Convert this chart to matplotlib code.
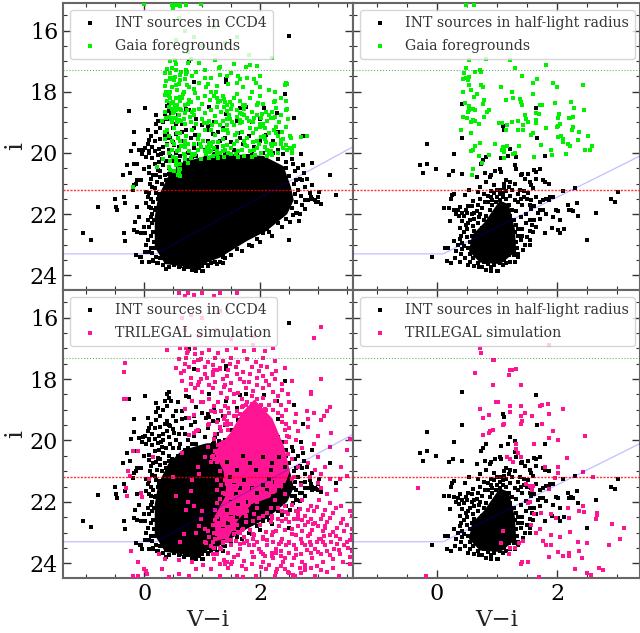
import numpy as np
import matplotlib
matplotlib.use('Agg')
import matplotlib.pyplot as plt
from matplotlib.ticker import MultipleLocator

plt.rcParams['font.family'] = 'DejaVu Serif'

# points as (V-i, i)
black_half = [(.42,18.41),(.42,19.51),(-.17,19.72),(.29,20.05),(-.29,20.4),(-.17,20.35),(-.24,20.67),(-.01,20.52),(.2,20.71),(.27,20.6),
 (.42,20.68),(.66,20.78),(.8,20.67),(.9,20.71),(.89,20.78),(.97,20.59),(1.04,20.54),(1.07,20.62),(1.3,20.38),(1.32,20.53),
 (1.42,20.7),(1.51,20.68),(1.62,20.57),(1.71,20.53),(1.65,20.62),(1.1,19.13),(1.12,19.24),(1.66,19.5),(1.65,18.52),(1.22,19.88),
 (1.29,20.02),(1.32,20.13),(1.18,20.11),(1.07,20.18),(.82,20.13),(.76,20.24),(.73,20.35),(1.79,20.1),(1.76,20.9),(1.87,21.0),
 (1.79,20.95),(1.65,20.84),(1.54,20.95),(1.57,21.05),(1.46,20.84),(1.4,20.73),(1.21,20.95),(1.12,21.0),(1.15,20.89),(.82,20.95),
 (.72,21.1),(.54,21.2),(.46,21.38),(.25,21.38),(.28,21.33),(.23,21.52),(.68,21.27),(.6,21.58),(.68,21.7),(.11,21.8),
 (.2,21.8),(.29,21.85),(.35,21.87),(.39,21.76),(.49,21.85),(.32,22.0),(.37,22.07),(.22,22.24),(.42,22.22),(2.29,21.16),
 (2.1,21.25),(3.01,21.27),(2.9,21.52),(2.96,21.59),(2.18,21.7),(2.33,21.65),(2.23,21.85),(2.26,21.89),(2.2,21.87),(2.64,21.95),
 (2.35,22.05),(1.98,21.85),(2.01,21.89),(1.93,22.09),(2.04,22.2),(1.92,22.45),(2.01,22.52),(2.04,22.61),(2.12,22.49),(2.49,22.85),
 (1.88,21.43),(1.93,21.43),(1.82,21.49),(1.76,21.54),(1.71,21.6),(1.87,21.54),(1.65,21.43),(1.57,21.55),(1.71,21.87),(1.76,21.87),
 (1.82,21.98),(1.57,21.82),(1.48,21.98),(1.62,22.2),(1.65,22.41),(1.79,22.63),(1.6,22.58),(1.54,22.85),(1.46,23.0),(1.43,23.17),
 (-.08,23.41),(.13,23.1),(.18,23.1),(.16,23.52),(.24,23.59),(.28,22.87),(.38,22.8),(.5,21.95),(.58,22.0),(.66,21.9),
 (.75,21.8),(.85,21.6),(.9,21.45),(.95,21.3),(1.0,21.45),(.8,21.6),(.72,22.0),(.55,22.2),(.48,22.35),(.6,22.4),
 (.45,22.6),(.4,22.7),(.5,22.75),(.35,23.0),(.42,23.15),(.4,23.3),(.47,23.45),(.55,23.55),(.62,23.7),(.82,23.82),
 (.9,23.85),(1.0,23.85),(1.02,23.86),(.6,23.2),(1.3,21.0),(1.25,21.2),(1.35,21.35),(1.45,21.25),(1.5,21.5),(1.42,21.7),
 (1.32,21.9),(1.4,22.1),(1.48,22.3),(1.42,22.5),(1.35,22.7),(1.4,22.85),(1.33,23.1),(1.28,23.35),(1.22,23.55),(1.1,23.65),
 (.9,23.72),(.75,23.72),(1.55,22.2),(1.55,22.55),(1.3,21.55),(1.2,21.1),(1.05,21.2),(.95,21.05),(1.52,21.3),(1.6,21.15)]

black_half_extra = [(.45,22.05),(.52,22.3),(.62,22.15),(.68,22.3),(.78,22.2),(.82,22.05),(.88,21.85),(.92,21.7),(.98,21.6),(1.05,21.55),
 (1.1,21.45),(1.15,21.5),(1.08,21.7),(1.12,21.85),(1.2,21.7),(1.25,21.85),(1.22,22.05),(1.28,22.2),(1.32,22.35),(1.35,22.5),
 (1.25,22.45),(1.3,22.6),(1.25,22.8),(1.32,22.9),(1.22,23.0),(1.28,23.2),(1.2,23.35),(1.12,23.5),(1.05,23.6),(.95,23.65),
 (.85,23.62),(.78,23.55),(.68,23.6),(.6,23.45),(.55,23.3),(.52,23.1),(.45,23.05),(.55,22.9),(.58,22.7),(.62,22.55),
 (.7,22.65),(.75,22.45),(.85,22.35),(.9,22.15),(.95,22.0),(1.0,21.85),(.72,22.85),(.65,23.15),(.72,23.35),(.8,23.3),
 (.5,22.5),(.38,22.45),(.42,22.95),(.32,23.2),(.3,23.45),(.38,23.55),(.52,23.65),(.7,23.72),(1.15,23.6),(1.35,23.3),
 (1.42,22.7),(1.5,22.75),(1.58,22.35),(1.35,21.6),(1.1,21.3),(1.05,21.35),(1.15,21.25),(1.12,21.15),(1.0,21.2),(.9,21.25),
 (.85,21.4),(.78,21.35),(.72,21.5),(.92,21.55),(.58,21.75),(.62,21.95),(.52,21.72),(.42,21.95),(.7,22.1),(1.4,21.5),
 (1.22,21.4),(1.38,21.2),(1.45,21.45),(1.55,21.7),(1.62,21.75),(1.68,21.95),(1.72,22.15),(1.55,23.0),(1.35,23.4),(1.3,23.55)]

black_ccd4 = [(2.5,16.18),(.78,17.01),(1.41,17.68),(1.41,17.58),(2.43,18.07),(.85,17.68),(-.27,18.64),(.01,18.54),(.21,18.77),(.39,18.48),
 (.42,18.63),(.4,18.88),(.32,19.0),(.2,19.07),(.06,19.26),(-.18,19.3),(.2,19.32),(2.59,18.85),(2.73,19.46),(2.29,18.7),
 (2.07,18.53),(1.76,18.5),(1.11,18.5),(.78,18.6),(.72,18.55),(-.23,19.95),(-.09,19.91),(-.03,20.04),(-.18,20.35),(-.12,20.35),
 (.03,20.13),(.14,19.8),(.26,19.86),(.09,19.59),(.06,19.7),(.23,20.08),(.32,19.8),(.4,19.7),(.49,19.64),(.4,19.37),
 (.55,19.37),(.55,19.04),(.66,19.04),(.72,19.26),(.86,19.2),(1.07,19.26),(1.18,19.37),(1.27,19.32),(1.41,18.72),(.09,20.46),
 (.23,20.57),(.32,20.4),(.35,20.73),(-.37,20.73),(-.14,21.0),(-.17,21.05),(-.12,20.89),(-.06,20.89),(-.2,21.22),(.12,20.84),
 (.14,21.11),(.03,21.27),(-.35,21.43),(-.51,21.52),(-.33,21.65),(-.48,21.76),(-.47,21.87),(-.79,21.78),(.06,21.43),(.03,21.65),
 (.09,21.76),(-.12,21.76),(-.16,22.25),(-.09,22.09),(-.17,22.52),(-.12,22.58),(-.06,22.63),(0,22.41),(.12,22.09),(.09,22.41),
 (.14,22.3),(-1.05,22.61),(-.91,22.83),(-.35,22.63),(-.33,22.88),(.06,22.85),(.03,23.0),(.12,23.12),(-.14,23.34),(-.06,23.39),
 (-.03,23.55),(.09,23.55),(.14,23.28),(.2,23.39),(.32,23.66),(.43,23.72),(.6,23.72),(.82,23.8),(3.3,21.38),(3.2,20.73),
 (3.05,21.67),(3.0,21.43),(2.9,21.05),(2.9,20.32),(2.71,20.04),(2.56,20.35),(2.74,20.4),(2.75,20.67),(2.68,20.84),(2.82,21.54),
 (2.88,21.43),(2.94,21.54),(3.0,21.6),(2.77,21.82),(2.68,21.98),(2.67,22.23),(2.56,22.03),(.3,20.2),(.45,20.1),(.55,20.0),
 (.6,19.8),(.5,20.25),(.38,20.9),(.3,21.0),(.2,21.3),(.15,21.6),(.16,22.6),(.17,22.9),(.65,19.6),(.8,19.5),
 (.95,19.7),(1.1,19.6),(1.25,19.8),(1.4,19.5),(1.55,19.9),(1.7,19.7),(1.9,19.8),(2.1,19.4),(2.3,19.9),(.6,20.25),
 (.75,20.0),(.9,20.1),(1.05,19.9),(1.2,20.05),(1.4,20.0),(1.6,20.05),(1.85,20.05),(2.05,20.0),(2.3,20.2),(2.45,20.3),
 (2.6,20.6),(2.62,20.9),(2.65,21.2),(2.7,21.4),(2.62,21.6),(2.55,21.8),(2.45,22.15),(2.3,22.3),(2.15,22.6),(1.95,22.8),
 (1.8,23.0),(1.6,23.15),(1.4,23.45),(1.15,23.6),(1.0,23.7),(.66,19.3),(.9,18.9),(1.2,19.0),(1.6,18.95),(2.0,18.9)]

black_ccd4_extra = [(.12,19.45),(.18,19.6),(.28,19.55),(.35,19.45),(.45,19.52),(.52,19.75),(.42,19.9),(.33,20.0),(.18,19.95),(.08,20.0),
 (.02,19.85),(.14,20.15),(.25,20.3),(.38,20.25),(.18,20.35),(.08,20.65),(.16,20.72),(.28,20.8),(.22,20.95),(.18,21.15),
 (.1,21.0),(.08,21.32),(.12,21.5),(.18,21.85),(.13,22.0),(.06,22.2),(.17,22.2),(.02,22.62),(.12,22.7),(.08,23.25),
 (.02,23.25),(.15,23.5),(.28,23.45),(.22,23.6),(.38,23.78),(.52,23.62),(.68,23.8),(.72,23.68),(.95,23.75),(1.1,23.7),
 (1.25,23.62),(1.35,23.6),(1.5,23.32),(1.68,23.22),(1.85,23.05),(2.0,22.92),(2.2,22.72),(2.38,22.42),(2.52,22.25),(2.62,21.95),
 (2.72,21.7),(2.78,21.55),(2.85,21.3),(2.78,21.1),(2.72,20.9),(2.8,20.85),(2.65,20.5),(2.55,20.2),(2.4,20.05),(2.22,20.0),
 (1.3,19.6),(1.5,19.65),(1.62,19.35),(1.8,19.45),(2.0,19.6),(2.22,19.6),(.7,19.8),(.85,19.85),(.62,20.1),(.42,20.5),
 (.48,20.62),(.58,20.5),(.7,20.3),(.88,19.4),(1.0,19.1),(1.35,19.2),(1.85,19.0),(2.3,19.3),(.5,19.2),(.58,18.75),
 (.46,18.7),(.35,18.72),(.28,19.2),(.08,19.95),(-.02,19.9),(.24,18.95),(2.45,20.5),(2.5,20.75),(2.58,21.0),(2.6,21.35)]

# black that shows through the pink mass in the CCD4 simulation panel
black_in_pink = [(1.85,21.55),(1.95,21.7),(2.05,21.45),(2.15,21.25),(2.25,21.35),(2.32,21.6),(2.42,21.45),(2.5,21.25),(2.12,21.6),(2.22,21.8),
 (1.72,21.3),(1.65,21.55),(1.58,21.75),(1.5,22.0),(1.42,22.25),(1.5,22.4),(1.62,22.1),(1.75,22.0),(1.88,22.12),(1.98,22.3),
 (2.1,22.15),(2.25,22.1),(1.7,20.5),(1.82,20.75),(1.6,20.95),(1.48,21.2),(1.92,20.95),(2.05,20.55),(2.2,20.75),(2.32,20.55),
 (2.42,20.85),(1.55,21.45),(1.38,21.55),(1.3,21.15),(1.42,20.7),(1.28,22.55),(1.35,22.8),(1.22,23.15),(1.45,22.7),(1.6,22.5),
 (2.58,21.55),(2.68,21.7),(2.78,21.35),(2.9,21.6),(2.45,21.85),(2.35,22.0),(2.6,21.8),(2.18,20.95),(1.75,22.35),(1.88,22.5)]

green_half = [(.48,15.15),(.61,15.15),(.53,16.95),(.81,16.92),(1.22,16.96),(1.82,17.14),(1.29,17.23),(.48,17.23),(.45,17.39),(.63,17.36),
 (.72,17.28),(.73,17.35),(1.42,17.48),(.44,17.59),(.49,17.54),(.53,17.52),(.52,17.63),(1.66,17.59),(1.6,17.71),(1.93,17.71),
 (1.99,17.84),(2.43,17.78),(.54,17.79),(.73,17.78),(.77,17.86),(.57,17.95),(1.07,17.84),(.44,18.02),(1.24,18.02),(.67,18.09),
 (.61,18.16),(1.6,18.09),(1.14,18.26),(1.26,18.22),(1.38,18.24),(.78,18.26),(.76,18.39),(.47,18.37),(1.4,18.34),(1.42,18.45),
 (1.96,18.38),(2.23,18.34),(1.71,18.45),(1.74,18.42),(2.28,18.54),(2.45,18.59),(.53,18.48),(.54,18.59),(.6,18.57),(.64,18.61),
 (.52,18.66),(.86,18.59),(.83,18.66),(1.65,18.68),(1.69,18.72),(.79,18.83),(.43,18.82),(.5,18.85),(.6,18.91),(.64,18.97),
 (.7,19.04),(.56,19.0),(2.03,18.72),(2.01,18.85),(2.19,18.85),(2.22,18.86),(2.26,18.84),(1.47,18.76),(1.48,18.9),(1.52,18.99),
 (1.65,18.91),(1.65,19.02),(1.35,18.96),(1.24,18.99),(1.43,19.1),(1.03,19.02),(1.08,19.01),(1.17,19.1),(1.15,19.24),(1.35,19.24),
 (1.43,19.26),(1.82,19.2),(1.99,19.15),(2.04,19.07),(2.01,19.13),(2.27,19.15),(2.24,19.24),(2.37,19.32),(.4,19.24),(.57,19.34),
 (1.6,19.34),(1.57,19.4),(2.01,19.48),(2.07,19.46),(2.09,19.53),(2.51,19.46),(2.35,19.59),(2.18,19.7),(2.1,19.64),(2.21,19.77),
 (2.58,19.77),(2.47,19.91),(2.54,19.91),(1.73,19.75),(1.89,19.91),(.97,19.7),(.71,19.67),(.64,19.78),(.6,19.91),(.56,19.95),
 (1.36,19.76),(1.09,19.8),(1.12,19.85),(1.16,19.78),(1.08,19.91),(1.12,19.97),(1.26,20.02),(1.3,20.0),(.7,20.11),(.86,20.08),
 (1.62,20.13),(1.91,20.08),(2.15,20.05),(1.12,20.16),(.75,20.32),(.6,20.51),(.58,20.71)]

green_ccd4 = [(.55,15.15),(.6,15.12),(.5,15.25),(.62,15.2),(.72,15.15),(.98,15.12),(0,15.13),(.6,15.6),(.7,16.0),(.55,16.3),
 (.85,16.2),(1.0,16.5),(1.2,15.9),(.75,16.7),(1.4,16.4),(1.8,16.8),(1.6,16.2),(2.2,16.9),(.45,17.0),(.55,17.1),
 (.75,17.05),(.95,17.05),(1.3,17.2),(1.55,17.1),(1.75,17.2),(1.95,17.15),(.35,17.4),(.4,17.25),(.55,17.3),(.62,17.45),
 (.7,17.6),(.82,17.5),(.9,17.35),(1.05,17.3),(1.15,17.55),(1.3,17.45),(1.5,17.4),(1.62,17.5),(1.9,17.6),(.35,17.8),
 (.38,18.0),(.35,18.1),(.48,17.85),(.6,17.75),(.68,18.0),(.85,17.9),(.95,17.7),(1.25,17.8),(1.45,17.75),(1.7,17.85),
 (1.85,18.0),(2.0,18.15),(2.45,17.7),(2.47,17.75),(.45,18.2),(.5,18.35),(.55,18.2),(.62,18.3),(.7,18.45),(.8,18.35),
 (.92,18.2),(1.0,18.4),(1.15,18.0),(1.2,18.15),(1.3,18.3),(1.35,18.15),(1.48,18.35),(1.55,18.2),(1.65,18.3),(1.82,18.2),
 (1.95,18.45),(2.05,18.4),(2.25,18.3),(2.45,18.3),(2.47,18.55),(.35,18.65),(.42,18.5),(.5,18.7),(.62,18.55),(.7,18.7),
 (.85,18.75),(.95,18.55),(1.05,18.7),(1.15,18.6),(1.25,18.5),(1.32,18.65),(1.5,18.55),(1.6,18.6),(1.72,18.75),(1.85,18.65),
 (1.95,18.75),(2.1,18.65),(2.2,18.65),(2.35,18.75),(2.48,18.9),(.3,18.95),(.38,18.85),(.48,19.0),(.55,18.85),(.68,18.9),
 (.8,19.0),(.9,19.05),(1.0,18.9),(1.12,18.95),(1.22,18.8),(1.3,19.1),(1.42,18.9),(1.55,19.1),(1.68,19.0),(1.78,18.85),
 (1.88,19.0),(2.0,19.05),(2.12,18.95),(2.32,19.0),(2.45,19.15),(.36,19.3),(.42,19.45),(.52,19.2),(.62,19.35),(.72,19.45),
 (.82,19.25),(.95,19.4),(1.05,19.25),(1.22,19.4),(1.35,19.55),(1.45,19.35),(1.68,19.3),(1.78,19.5),(1.88,19.35),(1.95,19.6),
 (2.15,19.35),(2.3,19.45),(2.4,19.55),(2.53,19.5),(2.7,19.47),(2.8,19.44),(.4,19.75),(.48,19.9),(.42,20.0),(.52,19.72),
 (.62,19.6),(.7,19.8),(.78,19.95),(.85,19.7),(.92,19.9),(1.02,19.6),(1.12,19.68),(1.2,19.85),(1.28,19.65),(1.35,19.95),
 (1.42,19.75),(1.5,19.85),(1.6,19.6),(1.68,19.9),(1.78,19.78),(1.88,19.65),(1.95,19.85),(2.02,20.0),(2.08,19.8),(2.25,19.7),
 (2.3,20.0),(2.4,19.85),(2.45,19.75),(2.52,19.85),(2.55,20.0),(.32,20.2),(.45,20.25),(.55,20.15),(.62,20.35),(.7,20.2),
 (.8,20.15),(.88,20.05),(.98,20.2),(1.06,20.05),(1.18,20.1),(1.28,20.18),(1.38,20.12),(1.5,20.05),(1.72,20.1),(1.85,20.12),
 (2.12,20.1),(2.2,20.08),(.22,20.45),(.42,20.45),(.52,20.6),(.6,20.65),(.62,20.75),(-.2,21.12),(.55,20.4),(.45,20.55),
 (.42,18.15),(.48,18.55),(.56,18.42),(.66,18.22),(.74,18.6),(.4,18.3),(.6,18.75),(.46,18.9),(1.28,18.35),(1.38,18.5),
 (1.42,18.62),(1.52,18.45),(1.6,18.82),(1.72,18.55),(1.8,18.95),(1.9,18.85),(2.08,19.2),(1.92,19.22),(2.15,18.75),(2.28,19.35),
 (.7,19.6),(.75,19.7),(.92,19.55),(.98,19.82),(1.05,19.95),(1.15,19.95),(1.18,19.65),(1.25,19.95),(1.4,19.9),(1.55,19.72),
 (1.62,19.95),(1.72,19.62),(1.82,19.95),(1.98,19.72),(2.12,19.9),(2.18,19.95),(2.35,19.7),(.58,19.5),(.35,19.55),(.48,19.6),
 (.68,20.05),(.82,20.05),(.55,20.28),(.62,20.52),(.5,20.12),(1.45,20.0),(1.58,20.05),(1.05,18.15),(.88,18.05),(.62,17.62),
 (.72,17.42),(.45,17.55),(.38,17.65),(1.05,17.55),(1.1,17.75),(2.25,18.0),(2.35,18.2),(1.78,17.55),(2.0,17.5),(2.15,17.95)]

pink_half = [(.72,17.0),(.74,17.14),(.93,17.38),(.95,17.38),(.64,17.79),(1.87,16.9),(1.19,17.87),(1.21,17.72),(1.25,17.71),(1.31,17.68),
 (.93,18.21),(1.39,18.21),(.98,18.76),(1.01,18.76),(1.21,18.88),(1.4,18.88),(1.22,19.08),(.71,18.96),(.86,19.17),(.77,19.27),
 (1.71,18.88),(1.75,18.85),(1.85,18.82),(2.09,18.99),(1.47,19.1),(1.4,19.21),(1.58,19.22),(1.87,19.15),(1.42,19.37),(1.4,19.48),
 (1.74,19.47),(1.1,19.5),(1.12,19.48),(.93,19.66),(.89,19.7),(.86,19.77),(.77,19.83),(1.93,19.7),(2.47,19.84),(1.87,19.93),
 (2.01,20.0),(1.62,20.11),(1.32,20.11),(1.32,20.29),(1.35,20.4),(1.4,20.54),(1.17,20.54),(1.21,20.62),(1.26,20.71),(2.17,20.57),
 (1.8,20.87),(2.02,20.87),(2.01,21.05),(2.43,21.03),(2.59,21.18),(1.96,21.22),(-.32,21.55),(1.48,21.43),(1.54,21.49),(1.6,21.49),
 (1.58,21.6),(1.87,21.57),(1.54,22.0),(1.51,22.05),(2.43,22.14),(2.18,22.2),(2.37,22.3),(2.45,22.33),(2.66,22.36),(2.66,22.43),
 (2.65,22.55),(1.62,22.41),(1.73,22.36),(1.9,22.41),(1.98,22.52),(2.2,22.52),(1.57,22.74),(1.71,22.9),(1.65,23.0),(1.1,22.96),
 (1.89,23.07),(2.05,23.14),(2.22,22.98),(2.91,22.72),(3.11,22.85),(3.05,23.21),(2.87,23.41),(2.5,23.34),(2.35,23.3),(1.77,23.28),
 (1.81,23.41),(1.89,23.41),(1.43,23.26),(1.36,23.34),(1.3,23.5),(1.21,23.5),(1.07,23.34),(1.19,23.69),(2.01,23.63),(2.09,23.77),
 (2.2,23.66),(2.2,23.77),(2.36,23.59),(2.42,23.83),(1.87,23.8),(1.42,23.96),(1.51,23.97),(1.4,24.04),(2.29,24.18),(2.5,24.33),
 (2.57,24.37),(2.69,24.17),(2.77,24.23),(1.7,24.45),(-.19,24.42)]

pink_ccd4 = [(.6,15.2),(.7,15.3),(.75,15.2),(.85,15.25),(1.0,15.2),(1.2,15.3),(1.3,15.2),(1.6,15.2),(.65,16.0),(.8,15.9),
 (1.0,16.0),(1.3,15.8),(.7,16.4),(.95,16.6),(1.25,16.4),(1.5,16.7),(1.9,16.6),(3.05,16.3),(2.93,16.65),(.4,17.05),
 (-.33,17.47),(-.34,17.77),(-.35,18.65),(-.32,18.65),(3.05,18.0),(2.88,18.42),(2.88,18.5),(3.2,18.9),(3.15,19.05),(3.1,19.2),
 (.62,17.0),(.75,17.1),(.88,17.0),(1.0,17.15),(1.12,17.05),(1.28,17.15),(1.42,17.05),(1.58,17.0),(1.72,17.1),(1.9,17.05),(2.08,17.1),(2.22,17.0),
 (.6,17.35),(.72,17.3),(.85,17.45),(.98,17.35),(1.1,17.45),(1.22,17.3),(1.35,17.42),(1.5,17.3),(1.62,17.45),(1.78,17.35),(1.92,17.45),(2.05,17.3),(2.25,17.4),
 (.55,17.65),(.68,17.75),(.78,17.6),(.92,17.7),(1.05,17.62),(1.18,17.78),(1.3,17.65),(1.45,17.72),(1.58,17.6),(1.7,17.78),(1.85,17.62),(1.98,17.75),(2.12,17.62),(2.28,17.75),(2.42,17.65),
 (.65,18.05),(.8,17.95),(.95,18.1),(1.08,17.95),(1.22,18.1),(1.35,18.0),(1.5,18.12),(1.65,18.0),(1.8,18.1),(1.95,17.95),(2.1,18.08),(2.25,18.0),(2.38,18.15),(2.55,18.05),
 (.72,18.35),(.88,18.3),(1.0,18.42),(1.18,18.3),(1.32,18.45),(1.48,18.35),(1.62,18.45),(1.75,18.3),(1.88,18.4),(2.05,18.3),(2.22,18.42),(2.38,18.35),(2.48,18.5),
 (.82,18.72),(.98,18.75),(1.12,18.65),(1.28,18.75),(1.42,18.62),(1.55,18.75),(1.68,18.65),(2.25,18.7),(2.35,18.85),(2.5,18.75),
 (1.15,19.05),(1.32,19.05),(1.45,18.95),(1.6,19.05),(2.3,19.1),(2.45,19.0),(2.62,19.15),(2.8,19.05),(2.92,19.1),(2.82,19.3),(2.6,19.4),(3.05,19.35),
 (1.25,19.4),(1.38,19.3),(1.5,19.45),(1.45,19.65),(1.32,19.7),(2.38,19.4),(2.5,19.6),(2.65,19.7),(2.82,19.55),(3.0,19.85),(3.22,19.75),(3.55,19.95),(3.2,20.2),(3.5,20.3),
 (1.2,19.95),(1.35,20.05),(1.1,20.2),(1.22,20.35),(-.2,20.35),(-.1,20.35),(.15,20.55),(.65,20.4),(2.45,20.05),(2.62,20.0),(2.72,20.25),(2.92,20.1),(3.0,20.55),(3.12,20.85),(3.4,20.85),(3.5,21.15),(3.38,21.25),
 (1.05,20.55),(1.15,20.7),(1.28,20.6),(.92,20.85),(.95,21.1),(.82,21.3),(-.28,21.0),(-.25,21.15),(.08,21.25),(.5,21.2),(2.55,20.6),(2.65,20.85),(2.82,20.75),(2.95,20.95),(3.05,21.1),(3.2,21.25),
 (1.3,21.0),(1.4,21.3),(1.25,21.3),(1.45,20.95),(2.55,21.25),(2.7,21.45),(2.85,21.2),(3.0,21.4),(3.05,21.55),(3.15,21.75),(3.3,21.6),(-.3,21.8),(-.05,21.7),(-.03,21.85),(.55,21.8),(.8,21.65),(.75,22.0),(.85,22.15),
 (1.25,21.6),(1.4,21.75),(1.5,21.55),(1.3,21.9),(1.45,22.05),(1.6,21.85),(1.72,22.0),(1.85,21.75),(1.95,22.0),(2.1,21.7),(2.25,21.95),(2.42,21.75),(2.55,22.1),(2.72,21.95),(2.88,22.15),(3.02,21.95),(3.2,22.05),(3.4,22.15),(3.55,22.3),
 (.72,22.25),(1.0,22.3),(.98,22.55),(1.22,22.25),(1.35,22.4),(1.5,22.35),(1.62,22.2),(1.78,22.3),(1.95,22.2),(2.12,22.35),(2.3,22.2),(2.48,22.4),(2.62,22.3),(2.78,22.45),(2.92,22.3),(3.08,22.42),(3.25,22.35),(3.42,22.55),(3.58,22.45),
 (.95,22.8),(.68,23.05),(1.05,22.9),(1.22,22.6),(1.35,22.75),(1.48,22.6),(1.6,22.75),(1.75,22.65),(2.0,22.75),(2.18,22.65),(2.32,22.8),(2.5,22.65),(2.65,22.8),(2.82,22.65),(3.0,22.8),(3.15,22.65),(3.32,22.85),(3.5,22.75),
 (1.12,23.15),(1.25,23.05),(1.42,23.15),(1.55,23.05),(1.72,23.15),(1.88,23.05),(2.05,23.2),(2.2,23.08),(2.38,23.2),(2.55,23.05),(2.7,23.2),(2.85,23.05),(3.02,23.2),(3.2,23.08),(3.38,23.2),(3.58,23.1),
 (1.15,23.45),(1.32,23.55),(1.5,23.42),(1.65,23.55),(1.8,23.42),(1.98,23.55),(2.12,23.42),(2.28,23.55),(2.45,23.42),(2.62,23.55),(2.78,23.42),(2.95,23.55),(3.12,23.42),(3.28,23.55),(3.45,23.42),(3.58,23.6),
 (-.22,23.6),(-.1,23.95),(.25,23.7),(.35,23.85),(.6,23.9),(.82,23.95),(1.2,23.85),(1.38,23.9),(1.55,23.8),(1.72,23.92),(1.9,23.8),(2.05,23.95),(2.22,23.82),(2.4,23.95),(2.58,23.82),(2.72,23.95),(2.9,23.82),(3.08,23.95),(3.25,23.85),(3.42,23.95),(3.55,24.02),
 (-.2,24.4),(-.1,24.4),(0,24.2),(.03,24.25),(.05,24.35),(.3,24.2),(.42,24.45),(.6,24.35),(.78,24.4),(.9,24.2),(1.15,24.2),(1.3,24.4),(1.45,24.15),(1.6,24.4),(1.75,24.2),(1.92,24.42),(2.1,24.2),(2.25,24.42),(2.42,24.2),(2.6,24.42),(2.78,24.2),(2.95,24.42),(3.15,24.3),(3.35,24.42)]

pink_ccd4_extra = [(1.85,18.55),(1.95,18.65),(2.05,18.62),(1.78,18.75),(1.9,18.8),(2.02,18.85),(2.15,18.85),(1.68,18.92),(1.8,18.98),(2.1,19.0),
 (2.22,19.02),(1.55,19.2),(1.65,19.15),(1.42,19.5),(1.3,19.55),(1.22,19.78),(1.28,20.15),(1.18,20.5),(2.38,19.22),(2.45,19.45),
 (2.42,19.65),(2.5,19.88),(2.48,20.45),(2.45,20.75),(2.4,20.98),(2.35,21.18),(2.28,21.35),(2.12,21.4),(1.32,21.45),(1.35,21.72),
 (1.25,22.05),(1.32,22.28),(1.25,22.5),(1.18,22.75),(1.2,23.02),(1.28,22.88),(1.42,22.92),(1.55,22.88),(1.68,22.92),(1.35,23.1),
 (1.05,23.3),(1.18,23.3),(1.35,23.32),(1.58,23.28),(1.72,23.35),(1.95,23.32),(2.22,23.32),(2.5,23.3),(2.72,23.35),(2.98,23.32),
 (3.22,23.32),(3.5,23.32),(2.3,22.55),(2.45,22.55),(2.58,22.55),(2.72,22.58),(2.88,22.55),(3.05,22.55),(3.2,22.52),(2.42,22.92),
 (2.55,22.9),(2.72,22.95),(2.9,22.92),(3.08,22.95),(3.25,22.98),(3.45,22.95),(2.28,23.68),(2.5,23.68),(2.7,23.7),(2.88,23.68),
 (3.05,23.7),(3.2,23.72),(3.38,23.7),(3.55,23.78),(2.15,24.05),(2.35,24.08),(2.55,24.05),(2.78,24.05),(2.98,24.08),(1.3,24.02),
 (1.02,24.05),(.98,18.0),(1.12,18.2),(.8,18.15),(1.38,18.25),(1.55,18.5),(1.72,18.1),(1.95,18.2),(2.15,18.2),(2.3,18.55),
 (1.05,17.85),(.7,17.5),(1.42,17.9),(1.6,17.85),(1.82,17.82),(2.05,17.9),(2.2,17.85),(2.02,17.58),(.88,17.2),(1.18,17.55),
 (1.48,17.52),(1.75,22.45),(1.88,22.62),(2.05,22.45),(2.2,22.45),(2.38,22.62),(1.42,23.02),(1.62,22.98),(1.82,22.92),(2.1,22.98),
 (2.28,22.95),(2.62,23.08),(2.82,23.12),(3.1,23.12),(3.3,23.12),(1.22,23.22),(1.5,23.25),(1.65,23.38),(1.88,23.22),(2.12,23.25),
 (2.32,23.38),(2.58,23.42),(2.85,23.3),(3.08,23.3),(3.32,23.38),(3.52,23.5),(1.25,23.7),(1.45,23.68),(1.62,23.72),(1.85,23.62),
 (2.05,23.7),(2.35,23.75),(2.62,23.72),(2.8,23.58),(3.0,23.62),(3.15,23.6),(3.35,23.58),(1.5,24.02),(1.68,24.08),(1.85,24.02),
 (2.02,24.12),(2.28,24.3),(2.48,24.28),(2.7,24.32),(2.88,24.15),(3.05,24.22),(3.25,24.15),(2.68,22.22),(2.82,22.25),(2.98,22.18),
 (3.12,22.25),(3.3,22.2),(2.78,22.75),(2.95,22.7),(3.12,22.78),(3.4,22.7),(3.58,22.9),(3.55,23.25),(.62,23.3),(.9,23.0)]

# the pink and black merge into solid areas here, so these are outlines of those areas
core_ccd4_x = [.2,.2,.26,.43,.66,1.07,1.53,2.05,2.39,2.51,2.56,2.45,2.1,1.76,1.3,.84,.37]
core_ccd4_y = [23.07,22.09,21.43,20.78,20.35,20.13,20.08,20.13,20.46,21.11,21.54,21.98,22.52,22.85,23.39,23.72,23.6]
core_half_x = [.8,1.05,1.18,1.28,1.3,1.05,.72,.55,.6]
core_half_y = [22.3,21.6,21.7,22.5,23.2,23.6,23.55,23.2,22.7]
core_pink_x = [1.9,2.2,2.4,2.5,2.4,2.15,1.85,1.6,1.45,1.25,1.22,1.42,1.38,1.22,1.5,1.7]
core_pink_y = [18.7,19.3,20.2,21.0,21.5,21.85,22.05,22.6,23.15,23.25,22.5,21.8,21.0,20.4,19.75,19.1]

green_mag = 17.3
red_mag = 21.2
blue_x_ccd4 = [-1.4,.2,3.6]
blue_x_half = [-1.4,.1,3.38]
blue_y_ccd4 = [23.3,23.3,19.8]
blue_y_half = [23.3,23.3,20.1]

black_half = black_half + black_half_extra
pink_all = pink_ccd4 + pink_ccd4_extra + pink_half
black_all = black_ccd4 + black_ccd4_extra + black_half
green_all = green_ccd4 + green_half


def draw_panel(ax, black, other, other_color, labels, core, blue_x, blue_y, pink_core=None, holes=None):
    ax.fill(core[0], core[1], color='black', lw=1.5, zorder=2)
    b = np.array(black)
    o = np.array(other)
    ax.scatter(b[:, 0], b[:, 1], s=12, c='black', marker='s', linewidths=0, label=labels[0], zorder=2)
    if pink_core is not None:
        ax.fill(pink_core[0], pink_core[1], color=other_color, lw=1, zorder=2.5)
    if holes is not None:
        h = np.array(holes)
        ax.scatter(h[:, 0], h[:, 1], s=10, c='black', marker='s', linewidths=0, zorder=2.6)
    ax.scatter(o[:, 0], o[:, 1], s=12, c=other_color, marker='s', linewidths=0, label=labels[1], zorder=3)
    ax.axhline(green_mag, color='green', ls=':', lw=0.8, alpha=0.6, zorder=4)
    ax.axhline(red_mag, color='red', ls='--', lw=1, alpha=0.8, dashes=(1.5, 1), zorder=4)
    ax.plot(blue_x, blue_y, color='blue', lw=0.9, alpha=0.25, zorder=4)
    ax.set_xlim(blue_x[0], blue_x[-1])
    ax.set_ylim(24.48, 15.1)
    ax.xaxis.set_major_locator(MultipleLocator(2))
    ax.xaxis.set_minor_locator(MultipleLocator(0.5))
    ax.yaxis.set_major_locator(MultipleLocator(2))
    ax.yaxis.set_minor_locator(MultipleLocator(0.5))
    ax.tick_params(which='major', direction='in', top=True, right=True, length=6, width=1, color='#333333', labelsize=16)
    ax.tick_params(which='minor', direction='in', top=True, right=True, length=3, width=0.8, color='#333333')
    for s in ax.spines.values():
        s.set_color('#666666')
        s.set_linewidth(1.5)
    ax.legend(loc='upper left', bbox_to_anchor=(0.024, 0.975), borderaxespad=0, fontsize=10.2, labelspacing=0.65,
              scatterpoints=1, framealpha=0.8, labelcolor='#333333')


W, H = 640.0, 633.0
fig = plt.figure(figsize=(6.4, 6.33), dpi=100)
ax1 = fig.add_axes([63/W, 1-290/H, 290/W, 287/H])
ax2 = fig.add_axes([353/W, 1-290/H, 287/W, 287/H])
ax3 = fig.add_axes([63/W, 1-578/H, 290/W, 288/H])
ax4 = fig.add_axes([353/W, 1-578/H, 287/W, 288/H])

draw_panel(ax1, black_all, green_all, '#00f000', ['INT sources in CCD4', 'Gaia foregrounds'],
           (core_ccd4_x, core_ccd4_y), blue_x_ccd4, blue_y_ccd4)
draw_panel(ax2, black_half, green_half, '#00f000', ['INT sources in half-light radius', 'Gaia foregrounds'],
           (core_half_x, core_half_y), blue_x_half, blue_y_half)
draw_panel(ax3, black_all, pink_all, '#ff1493', ['INT sources in CCD4', 'TRILEGAL simulation'],
           (core_ccd4_x, core_ccd4_y), blue_x_ccd4, blue_y_ccd4,
           pink_core=(core_pink_x, core_pink_y), holes=black_in_pink)
draw_panel(ax4, black_half, pink_half, '#ff1493', ['INT sources in half-light radius', 'TRILEGAL simulation'],
           (core_half_x, core_half_y), blue_x_half, blue_y_half)

ax1.tick_params(labelbottom=False)
ax2.tick_params(labelbottom=False, labelleft=False)
ax4.tick_params(labelleft=False)
ax1.set_ylabel('i', fontsize=18, labelpad=2, color='#222222')
ax3.set_ylabel('i', fontsize=18, labelpad=2, color='#222222')
ax3.set_xlabel('V\u2212i', fontsize=16.5, labelpad=3, color='#222222')
ax4.set_xlabel('V\u2212i', fontsize=16.5, labelpad=3, color='#222222')

plt.savefig('out.png', dpi=100)
